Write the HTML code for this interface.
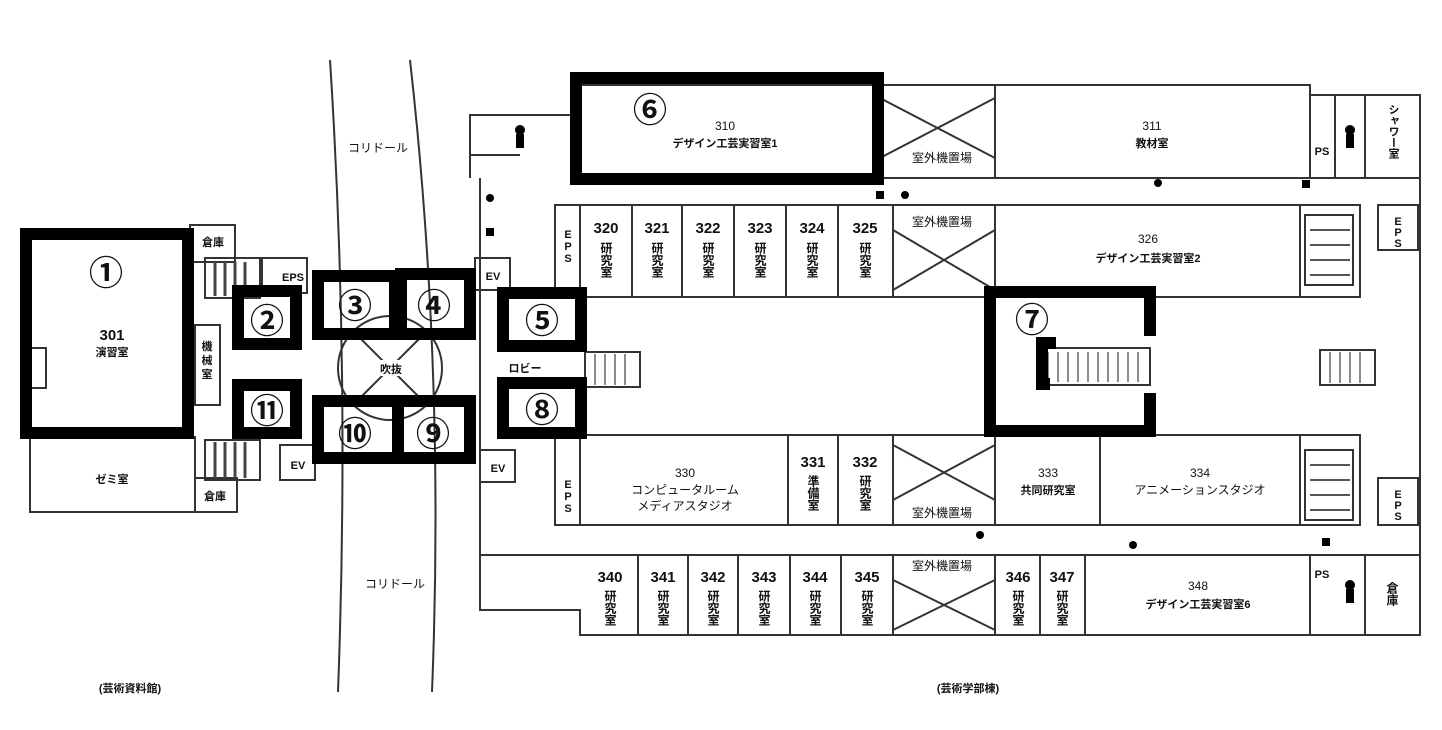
<!DOCTYPE html>
<html><head><meta charset="utf-8"><style>
html,body{margin:0;padding:0;background:#fff}
svg{display:block}
text{font-family:"Liberation Sans","Noto Sans CJK JP",sans-serif;fill:#111}
.t{font-size:12px;text-anchor:middle}
.s{font-size:11px;text-anchor:middle;font-weight:bold}
.n{font-size:15px;text-anchor:middle;font-weight:bold}
.c{font-size:34px;text-anchor:middle;font-weight:bold;fill:#000}
.v{font-size:12px;text-anchor:start;font-weight:bold;writing-mode:tb}
.w{fill:none;stroke:#333;stroke-width:2}
.k{fill:none;stroke:#000;stroke-width:12}
</style></head><body>
<svg width="1442" height="730" viewBox="0 0 1442 730" xmlns="http://www.w3.org/2000/svg">
<path d="M330 60 Q350 370 338 692" class="w" stroke-width="1.5"/>
<path d="M410 60 Q445 370 432 692" class="w" stroke-width="1.5"/>
<text x="378" y="152" class="t">コリドール</text>
<text x="395" y="588" class="t">コリドール</text>

<g class="w">
<rect x="30" y="437" width="165" height="75"/>
<rect x="190" y="225" width="45" height="37"/>
<rect x="195" y="478" width="42" height="34"/>
<rect x="205" y="258" width="55" height="40"/>
<rect x="205" y="440" width="55" height="40"/>
<rect x="262" y="258" width="45" height="35"/>
<rect x="280" y="445" width="35" height="35"/>
<rect x="195" y="325" width="25" height="80"/>
<rect x="28" y="348" width="18" height="40"/>
</g>
<g stroke="#444" stroke-width="3">
<line x1="215" y1="262" x2="215" y2="296"/><line x1="225" y1="262" x2="225" y2="296"/><line x1="235" y1="262" x2="235" y2="296"/><line x1="245" y1="262" x2="245" y2="296"/>
<line x1="215" y1="442" x2="215" y2="478"/><line x1="225" y1="442" x2="225" y2="478"/><line x1="235" y1="442" x2="235" y2="478"/><line x1="245" y1="442" x2="245" y2="478"/>
</g>
<text x="112" y="340" class="n">301</text><text x="112" y="356" class="s">演習室</text>
<text x="112" y="483" class="s">ゼミ室</text>
<text x="213" y="246" class="s">倉庫</text><text x="215" y="500" class="s">倉庫</text>
<text x="293" y="281" class="s">EPS</text><text x="298" y="469" class="s">EV</text>
<text x="207" y="350" class="s">機</text><text x="207" y="364" class="s">械</text><text x="207" y="378" class="s">室</text>

<circle cx="390" cy="368" r="52" class="w"/>
<line x1="353" y1="331" x2="427" y2="405" class="w"/><line x1="427" y1="331" x2="353" y2="405" class="w"/>
<rect x="372" y="360" width="38" height="16" fill="#fff"/>
<text x="391" y="373" class="s">吹抜</text>

<g class="w">
<path d="M470 178 V115 H570 M570 85 H1310 V95 H1420 V635 H580 V610 H480 V555"/>
<line x1="570" y1="178" x2="1420" y2="178"/>
<line x1="480" y1="178" x2="480" y2="555"/>
<rect x="880" y="85" width="115" height="93"/>
<line x1="995" y1="85" x2="995" y2="178"/>
<line x1="1310" y1="95" x2="1310" y2="178"/><line x1="1335" y1="95" x2="1335" y2="178"/><line x1="1365" y1="95" x2="1365" y2="178"/>
<rect x="555" y="205" width="805" height="92"/>
<rect x="555" y="435" width="805" height="90"/>
<rect x="475" y="258" width="35" height="32"/><rect x="480" y="450" width="35" height="32"/>
<rect x="1378" y="205" width="40" height="45"/><rect x="1378" y="478" width="40" height="47"/>
<line x1="480" y1="555" x2="1420" y2="555"/>
<path d="M470 155 H520"/>
</g>
<g class="w" stroke-width="1.5">
<line x1="580" y1="205" x2="580" y2="297"/><line x1="632" y1="205" x2="632" y2="297"/><line x1="682" y1="205" x2="682" y2="297"/><line x1="734" y1="205" x2="734" y2="297"/><line x1="786" y1="205" x2="786" y2="297"/><line x1="838" y1="205" x2="838" y2="297"/><line x1="893" y1="205" x2="893" y2="297"/><line x1="995" y1="205" x2="995" y2="297"/><line x1="1300" y1="205" x2="1300" y2="297"/>
<line x1="580" y1="435" x2="580" y2="525"/><line x1="788" y1="435" x2="788" y2="525"/><line x1="838" y1="435" x2="838" y2="525"/><line x1="893" y1="435" x2="893" y2="525"/><line x1="995" y1="435" x2="995" y2="525"/><line x1="1100" y1="435" x2="1100" y2="525"/><line x1="1300" y1="435" x2="1300" y2="525"/>
<line x1="638" y1="555" x2="638" y2="635"/><line x1="688" y1="555" x2="688" y2="635"/><line x1="738" y1="555" x2="738" y2="635"/><line x1="790" y1="555" x2="790" y2="635"/><line x1="841" y1="555" x2="841" y2="635"/><line x1="893" y1="555" x2="893" y2="635"/><line x1="995" y1="555" x2="995" y2="635"/><line x1="1040" y1="555" x2="1040" y2="635"/><line x1="1085" y1="555" x2="1085" y2="635"/><line x1="1310" y1="555" x2="1310" y2="635"/><line x1="1365" y1="555" x2="1365" y2="635"/>
<path d="M893 230 L995 290 M995 230 L893 290 M893 445 L995 500 M995 445 L893 500 M893 580 L995 630 M995 580 L893 630 M880 98 L995 158 M995 98 L880 158"/>
<rect x="1305" y="215" width="48" height="70"/><rect x="1305" y="450" width="48" height="70"/>
<rect x="1040" y="348" width="110" height="37"/><rect x="1320" y="350" width="55" height="35"/>
<rect x="585" y="352" width="55" height="35"/>
</g>
<g stroke="#555" stroke-width="2">
<line x1="1310" y1="230" x2="1350" y2="230"/><line x1="1310" y1="245" x2="1350" y2="245"/><line x1="1310" y1="260" x2="1350" y2="260"/><line x1="1310" y1="275" x2="1350" y2="275"/>
<line x1="1310" y1="465" x2="1350" y2="465"/><line x1="1310" y1="480" x2="1350" y2="480"/><line x1="1310" y1="495" x2="1350" y2="495"/><line x1="1310" y1="510" x2="1350" y2="510"/>
</g>
<g stroke="#666" stroke-width="1.5">
<line x1="1048" y1="352" x2="1048" y2="382"/><line x1="1058" y1="352" x2="1058" y2="382"/><line x1="1068" y1="352" x2="1068" y2="382"/><line x1="1078" y1="352" x2="1078" y2="382"/><line x1="1088" y1="352" x2="1088" y2="382"/><line x1="1098" y1="352" x2="1098" y2="382"/><line x1="1108" y1="352" x2="1108" y2="382"/><line x1="1118" y1="352" x2="1118" y2="382"/><line x1="1128" y1="352" x2="1128" y2="382"/><line x1="1138" y1="352" x2="1138" y2="382"/>
<line x1="1330" y1="352" x2="1330" y2="383"/><line x1="1340" y1="352" x2="1340" y2="383"/><line x1="1350" y1="352" x2="1350" y2="383"/><line x1="1360" y1="352" x2="1360" y2="383"/>
<line x1="595" y1="354" x2="595" y2="385"/><line x1="605" y1="354" x2="605" y2="385"/><line x1="615" y1="354" x2="615" y2="385"/><line x1="625" y1="354" x2="625" y2="385"/>
</g>
<text x="725" y="130" class="t" font-size="14">310</text><text x="725" y="147" class="s">デザイン工芸実習室1</text>
<text x="1152" y="130" class="t" font-size="14">311</text><text x="1152" y="147" class="s">教材室</text>
<text x="1148" y="243" class="t" font-size="14">326</text><text x="1148" y="262" class="s">デザイン工芸実習室2</text>
<text x="685" y="477" class="t" font-size="14">330</text><text x="685" y="494" class="t" font-size="11">コンピュータルーム</text><text x="685" y="510" class="t" font-size="11">メディアスタジオ</text>
<text x="1048" y="477" class="t" font-size="14">333</text><text x="1048" y="494" class="s">共同研究室</text>
<text x="1200" y="477" class="t" font-size="14">334</text><text x="1200" y="494" class="t" font-size="11">アニメーションスタジオ</text>
<text x="1198" y="590" class="t" font-size="14">348</text><text x="1198" y="608" class="s">デザイン工芸実習室6</text>
<g class="n" font-size="14">
<text x="606" y="233">320</text><text x="657" y="233">321</text><text x="708" y="233">322</text><text x="760" y="233">323</text><text x="812" y="233">324</text><text x="865" y="233">325</text>
<text x="813" y="467">331</text><text x="865" y="467">332</text>
<text x="610" y="582">340</text><text x="663" y="582">341</text><text x="713" y="582">342</text><text x="764" y="582">343</text><text x="815" y="582">344</text><text x="867" y="582">345</text><text x="1018" y="582">346</text><text x="1062" y="582">347</text>
</g>
<g class="v">
<text x="606" y="242">研究室</text><text x="657" y="242">研究室</text><text x="708" y="242">研究室</text><text x="760" y="242">研究室</text><text x="812" y="242">研究室</text><text x="865" y="242">研究室</text>
<text x="813" y="475">準備室</text><text x="865" y="475">研究室</text>
<text x="610" y="590">研究室</text><text x="663" y="590">研究室</text><text x="713" y="590">研究室</text><text x="764" y="590">研究室</text><text x="815" y="590">研究室</text><text x="867" y="590">研究室</text><text x="1018" y="590">研究室</text><text x="1062" y="590">研究室</text>
<text x="1393" y="104" font-size="11">シャワー室</text><text x="1392" y="582">倉庫</text>
</g>
<text x="525" y="372" class="s" font-size="13">ロビー</text>
<text x="493" y="280" class="s" font-size="13">EV</text><text x="498" y="472" class="s" font-size="13">EV</text>
<text x="1398" y="225" class="s">E</text><text x="1398" y="236" class="s">P</text><text x="1398" y="247" class="s">S</text>
<text x="1398" y="498" class="s">E</text><text x="1398" y="509" class="s">P</text><text x="1398" y="520" class="s">S</text>
<text x="568" y="238" class="s">E</text><text x="568" y="250" class="s">P</text><text x="568" y="262" class="s">S</text>
<text x="568" y="488" class="s">E</text><text x="568" y="500" class="s">P</text><text x="568" y="512" class="s">S</text>
<text x="1322" y="155" class="s">PS</text><text x="1322" y="578" class="s">PS</text>
<text x="942" y="226" class="t" font-size="9">室外機置場</text><text x="942" y="517" class="t" font-size="9">室外機置場</text><text x="942" y="570" class="t" font-size="9">室外機置場</text><text x="942" y="162" class="t" font-size="9">室外機置場</text>
<circle cx="1158" cy="183" r="4"/><circle cx="905" cy="195" r="4"/><rect x="876" y="191" width="8" height="8"/><rect x="1302" y="180" width="8" height="8"/>
<circle cx="490" cy="198" r="4"/><rect x="486" y="228" width="8" height="8"/><circle cx="1133" cy="545" r="4"/><circle cx="980" cy="535" r="4"/><rect x="1322" y="538" width="8" height="8"/>
<circle cx="520" cy="130" r="5"/><rect x="516" y="134" width="8" height="14"/>
<circle cx="1350" cy="130" r="5"/><rect x="1346" y="134" width="8" height="14"/>
<circle cx="1350" cy="585" r="5"/><rect x="1346" y="589" width="8" height="14"/>

<text x="130" y="692" class="s" font-size="13">(芸術資料館)</text>
<text x="968" y="692" class="s" font-size="13">(芸術学部棟)</text>

<rect x="26" y="234" width="162" height="199" class="k"/>
<rect x="238" y="291" width="58" height="53" class="k" fill="#fff"/>
<rect x="318" y="276" width="77" height="58" class="k" fill="#fff"/>
<rect x="401" y="274" width="69" height="60" class="k" fill="#fff"/>
<rect x="503" y="293" width="78" height="53" class="k" fill="#fff"/>
<rect x="576" y="78" width="302" height="101" class="k"/>
<path d="M1150 336 V292 H990 V431 H1150 V393" class="k"/>
<path d="M1050 384 H1042 V343 H1056" class="k" stroke-width="10"/>
<rect x="503" y="383" width="78" height="50" class="k" fill="#fff"/>
<rect x="398" y="401" width="72" height="57" class="k" fill="#fff"/>
<rect x="318" y="401" width="80" height="57" class="k" fill="#fff"/>
<rect x="238" y="385" width="58" height="48" class="k" fill="#fff"/>

<g class="c">
<text x="106" y="285">①</text><text x="267" y="333">②</text><text x="355" y="318">③</text><text x="434" y="318">④</text><text x="542" y="333">⑤</text><text x="650" y="122">⑥</text><text x="1032" y="332">⑦</text><text x="542" y="422">⑧</text><text x="433" y="446">⑨</text><text x="355" y="446">⑩</text><text x="267" y="423">⑪</text>
</g>
</svg>
</body></html>
